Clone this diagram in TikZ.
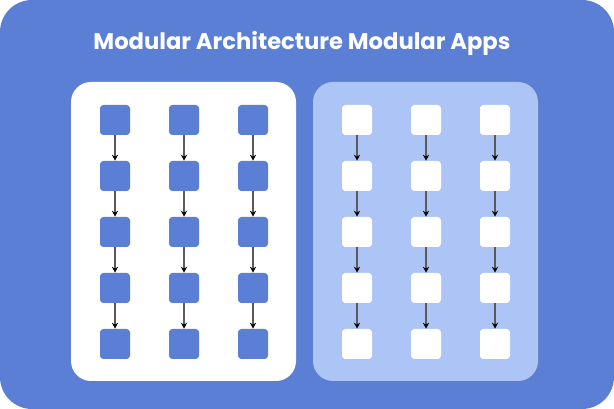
\documentclass[tikz,border=0pt]{standalone}
\usepackage{fontspec}
\setmainfont{Poppins}
\usetikzlibrary{arrows.meta}
\definecolor{bgblue}{RGB}{90,127,212}
\definecolor{paleblue}{RGB}{173,196,247}
\definecolor{linkgray}{RGB}{90,90,90}
\begin{document}
\begin{tikzpicture}[x=0.75pt,y=0.75pt,yscale=-1,xscale=1,
    modbox/.style={fill=#1, draw=none, rounded corners=2.5pt, minimum width=22.5pt, minimum height=22.5pt, inner sep=0pt},
    dep/.style={draw=linkgray, line width=0.9pt, -{Stealth[length=4.5pt,width=4.5pt,black]}}]
    \useasboundingbox (0,0) rectangle (614,409);

    %Rounded Rect: background
    \fill [white] (0,0) rectangle (614,409);
    \fill [bgblue, rounded corners=24pt] (0,0) rectangle (614,409);
    %Rounded Rect: left panel
    \fill [white, rounded corners=15pt] (71,82) rectangle (296,381);
    %Rounded Rect: right panel
    \fill [paleblue, rounded corners=15pt] (313,82) rectangle (538,381);

    % Text Node
    \node (title) at (302,43) [text=white, font=\fontsize{17}{20}\selectfont\bfseries] {Modular Architecture Modular Apps};

    % Modules, left panel
    \foreach \c/\x in {1/115,2/184,3/253}
      \foreach \r/\y in {1/120,2/176,3/232,4/288,5/344}
        \node [modbox=bgblue] (L\c\r) at (\x,\y) {};
    % Modules, right panel
    \foreach \c/\x in {1/357,2/426,3/495}
      \foreach \r/\y in {1/120,2/176,3/232,4/288,5/344}
        \node [modbox=white] (R\c\r) at (\x,\y) {};

    % Links
    \foreach \c in {1,2,3}
      \foreach \r/\n in {1/2,2/3,3/4,4/5} {
        \draw [dep] (L\c\r.south) -- (L\c\n.north);
        \draw [dep] (R\c\r.south) -- (R\c\n.north);
      }
\end{tikzpicture}
\end{document}
